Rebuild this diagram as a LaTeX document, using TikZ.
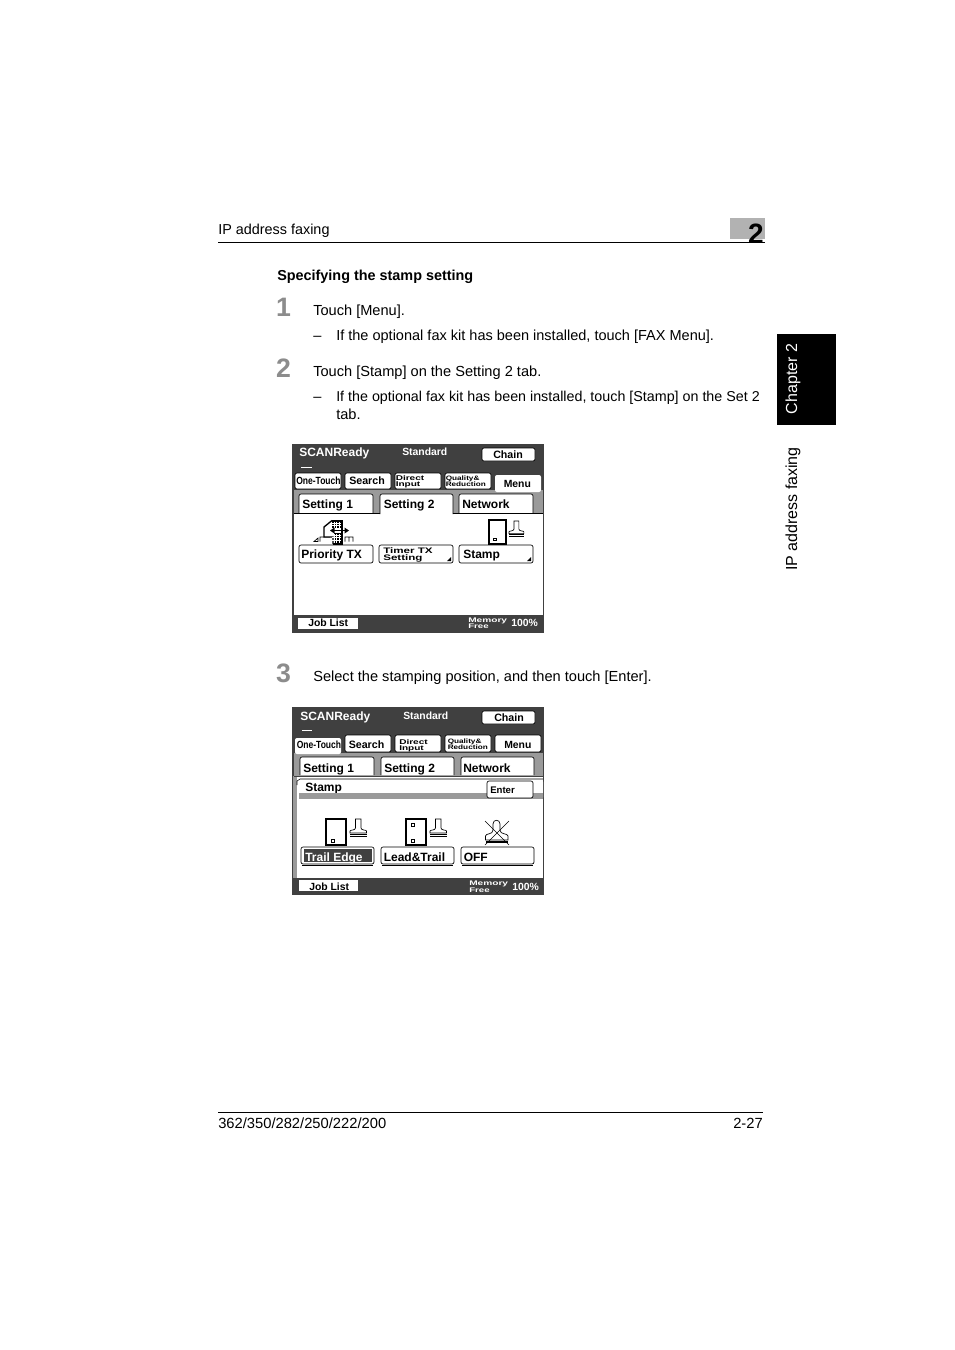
\documentclass[tikz,border=0pt]{standalone}
\usepackage{fontspec}
\setmainfont{Liberation Sans}
\usetikzlibrary{calc}
\definecolor{panelgray}{HTML}{404040}
\definecolor{stripgray}{HTML}{9A9A9A}
\definecolor{stepgray}{HTML}{8C8C8C}
\tikzset{
  page/.style={inner sep=0pt,anchor=base west,font=\fontsize{10.95}{12}\selectfont},
  side/.style={inner sep=0pt,anchor=center,rotate=90,font=\fontsize{12}{13}\selectfont},
  keytext/.style={inner sep=0pt,anchor=base west,font=\bfseries\fontsize{9}{10}\selectfont},
  smalltext/.style={inner sep=0pt,anchor=base west,font=\bfseries\fontsize{5.2}{5}\selectfont},
  stepnum/.style={inner sep=0pt,anchor=center,text=stepgray,font=\bfseries\fontsize{20}{20}\selectfont},
  keybox/.style={draw=black,fill=white,line width=0.5pt,rounded corners=1.5pt},
}
\newcommand{\wide}[1]{\scalebox{1.45}[1]{#1}}
\newcommand{\stampicon}[3]{%
\begin{scope}[shift={(#1,#2)},scale=#3]
\draw[black,line width=0.5pt] (0,14) -- (0,12) .. controls (0,10.8) and (5.5,11.5) .. (5.5,9) -- (5.5,0) -- (11,0) -- (11,9) .. controls (11,11.5) and (16.5,10.8) .. (16.5,12) -- (16.5,14) -- cycle;
\draw[black,line width=1pt] (0,15.2) -- (16.5,15.2);
\draw[black,line width=1pt] (0,17.4) -- (16.5,17.4);
\end{scope}}
\begin{document}
\begin{tikzpicture}[x=0.75pt,y=-0.75pt]
\useasboundingbox (0,0) rectangle (954,1350);
% page head
\node[page,font=\fontsize{10.8}{12}\selectfont] (headtitle) at (218,234) {IP address faxing};
\fill[black!30] (730,218) rectangle (765,239);
\draw[black,line width=0.7pt] (218,242.5) -- (765,242.5);
\node[inner sep=0pt,anchor=base east,font=\bfseries\fontsize{21}{22}\selectfont] (headnum) at (764,243) {2};
\fill[black] (777,334) rectangle (836,425);
\node[side,text=white] (sidechapter) at (793,379) {Chapter 2};
\node[side] (sidetitle) at (793,509) {IP address faxing};
% steps
\node[page,font=\bfseries\fontsize{10.8}{12}\selectfont] (heading) at (277,280) {Specifying the stamp setting};
\node[stepnum] (stepa) at (283.5,307) {1};
\node[page] (stepatext) at (313,315) {Touch [Menu].};
\node[page] (dasha) at (313,340) {–};
\node[page,font=\fontsize{10.89}{12}\selectfont] (noteatext) at (336,340) {If the optional fax kit has been installed, touch [FAX Menu].};
\node[stepnum] (stepb) at (283.5,368) {2};
\node[page] (stepbtext) at (313,376) {Touch [Stamp] on the Setting 2 tab.};
\node[page] (dashb) at (313,401) {–};
\node[page,font=\fontsize{10.72}{12}\selectfont] (notebtext) at (336,401) {If the optional fax kit has been installed, touch [Stamp] on the Set 2};
\node[page] (notebtextb) at (336,419) {tab.};
\node[stepnum] (stepc) at (283.5,673) {3};
\node[page] (stepctext) at (313,681) {Select the stamping position, and then touch [Enter].};
% first screen
\fill[panelgray] (292,444) rectangle (544,633);
\fill[stripgray] (294,490) rectangle (543,513);
\fill[white] (294,513) rectangle (543,615);
\draw[white,line width=0.8pt] (301,467.5) -- (312,467.5);
\node[keytext,text=white] (ascan) at (299,456) {SCANReady};
\node[keytext,text=white,font=\bfseries\fontsize{7.8}{8}\selectfont] (astd) at (402,455) {Standard};
\draw[keybox] (482,448) rectangle (535,461);
\node[keytext,font=\bfseries\fontsize{8}{8}\selectfont] (achain) at (493,458) {Chain};
\draw[keybox] (295,473) rectangle (341,489);
\node[keytext,font=\bfseries\fontsize{7.8}{8}\selectfont] (aone) at (296,484) {\scalebox{0.82}[1]{One-Touch}};
\draw[keybox] (345,473) rectangle (391,489);
\node[keytext,font=\bfseries\fontsize{8}{8}\selectfont] (asearch) at (349,484) {Search};
\draw[keybox] (395,473) rectangle (441,489);
\node[smalltext] (adira) at (395.5,480) {\wide{Direct}};
\node[smalltext] (adirb) at (395.5,486) {\wide{Input}};
\draw[keybox] (445,473) rectangle (491,489);
\node[smalltext,font=\bfseries\fontsize{4.8}{5}\selectfont] (aquala) at (445.5,480) {\scalebox{1.28}[1]{Quality\&}};
\node[smalltext,font=\bfseries\fontsize{4.8}{5}\selectfont] (aqualb) at (445.5,486) {\scalebox{1.28}[1]{Reduction}};
\fill[white,rounded corners=1.5pt] (495,475) rectangle (541,492);
\node[keytext,font=\bfseries\fontsize{7.8}{8}\selectfont] (amenu) at (503.5,487) {Menu};
\draw[keybox] (299,513) |- (373,494) -- (373,513);
\node[keytext] (atabx) at (302,508) {Setting 1};
\draw[keybox] (380,514) |- (453,494) -- (453,514);
\node[keytext] (ataby) at (383.5,508) {Setting 2};
\draw[keybox] (459,513) |- (533,494) -- (533,513);
\node[keytext] (atabz) at (462,508) {Network};
\draw[black,line width=0.4pt] (293.5,513) -- (380,513) (453,513) -- (543,513);
% priority icon
\draw[black,line width=0.5pt] (314,541.5) -- (318,538) -- (318,541.5) -- cycle (320,541.5) -- (320,537) -- (330,537) (345,541.5) -- (345,537) -- (353,537) -- (353,541.5) (349,537) -- (349,541.5);
\fill[white] (332,520.5) -- (324,527) -- (324,537) -- (333,537) -- (333,544) -- (342,544) -- (342,520.5) -- cycle;
\draw[black,line width=1pt] (332,520.5) -- (324,527) -- (324,537) -- (333,537) -- (333,544);
\draw[black,line width=0.8pt] (332,520.5) -- (342,520.5) -- (342,544) -- (333,544);
\fill[black] (332,521) rectangle (341,528);
\fill[black] (334,533) rectangle (341,543);
\foreach \gx in {334,336.5,339} \draw[white,line width=0.4pt] (\gx,521.5) -- (\gx,528) (\gx,533.5) -- (\gx,543);
\foreach \gy in {523,525.5,535,537.5,540} \draw[white,line width=0.4pt] (332,\gy) -- (341,\gy);
\draw[black,line width=1.2pt] (332,530.5) -- (345,530.5);
\fill[black] (349,530.5) -- (344.5,527.5) -- (344.5,533.5) -- cycle;
\fill[black] (330,530.5) -- (334.5,527.5) -- (334.5,533.5) -- cycle;
% function keys
\draw[keybox] (299,545) rectangle (373,563);
\node[keytext,font=\bfseries\fontsize{9}{10}\selectfont] (aprio) at (301,558) {Priority TX};
\draw[keybox] (379,545) rectangle (453,563);
\node[smalltext,font=\bfseries\fontsize{6}{6}\selectfont] (atimera) at (383,553) {\wide{Timer TX}};
\node[smalltext,font=\bfseries\fontsize{6}{6}\selectfont] (atimerb) at (383,560) {\wide{Setting}};
\fill[black] (451,561) -- (447,561) -- (451,557) -- cycle;
\draw[keybox] (459,545) rectangle (533,563);
\node[keytext] (astamp) at (463,558) {Stamp};
\fill[black] (531,561) -- (527,561) -- (531,557) -- cycle;
\draw[black,line width=1pt] (489,520) rectangle (506,544);
\draw[black,line width=0.5pt] (493.5,538) rectangle (496,540.5);
\stampicon{509}{521}{0.9}
% first bar
\fill[white] (298,618) rectangle (358,629);
\node[keytext,font=\bfseries\fontsize{7.8}{8}\selectfont] (ajob) at (308,626) {Job List};
\node[smalltext,text=white,font=\bfseries\fontsize{5}{5}\selectfont] (amema) at (468,622) {\scalebox{1.52}[1]{Memory}};
\node[smalltext,text=white,font=\bfseries\fontsize{5}{5}\selectfont] (amemb) at (468,628) {\wide{Free}};
\node[keytext,text=white,font=\bfseries\fontsize{7.8}{8}\selectfont] (apct) at (511,626) {100\%};
% second screen
\fill[panelgray] (292,707) rectangle (544,895);
\fill[stripgray] (294,753) rectangle (543,779);
\fill[white] (294,776) rectangle (543,878);
\fill[stripgray] (293,776) rectangle (297,878);
\draw[white,line width=0.8pt] (302,730.5) -- (312,730.5);
\node[keytext,text=white] (bscan) at (300,720) {SCANReady};
\node[keytext,text=white,font=\bfseries\fontsize{7.8}{8}\selectfont] (bstd) at (403,719) {Standard};
\draw[keybox] (482,711) rectangle (535,724);
\node[keytext,font=\bfseries\fontsize{8}{8}\selectfont] (bchain) at (494,721) {Chain};
\fill[white,rounded corners=1.5pt] (295,738) rectangle (341,754);
\node[keytext,font=\bfseries\fontsize{7.8}{8}\selectfont] (bone) at (296.5,748) {\scalebox{0.82}[1]{One-Touch}};
\draw[keybox] (345,735) rectangle (391,752);
\node[keytext,font=\bfseries\fontsize{8}{8}\selectfont] (bsearch) at (348.5,748) {Search};
\draw[keybox] (395,735) rectangle (441,752);
\node[smalltext] (bdira) at (399,744) {\wide{Direct}};
\node[smalltext] (bdirb) at (399,750) {\wide{Input}};
\draw[keybox] (445,735) rectangle (491,752);
\node[smalltext,font=\bfseries\fontsize{4.8}{5}\selectfont] (bquala) at (447.5,743) {\scalebox{1.28}[1]{Quality\&}};
\node[smalltext,font=\bfseries\fontsize{4.8}{5}\selectfont] (bqualb) at (447.5,749) {\scalebox{1.28}[1]{Reduction}};
\draw[keybox] (495,735) rectangle (541,752);
\node[keytext,font=\bfseries\fontsize{7.8}{8}\selectfont] (bmenu) at (504,748) {Menu};
\draw[keybox] (300,775) |- (374,757) -- (374,775);
\node[keytext] (btabx) at (303,772) {Setting 1};
\draw[keybox] (381,775) |- (454,757) -- (454,775);
\node[keytext] (btaby) at (384,772) {Setting 2};
\draw[keybox] (461,775) |- (534,757) -- (534,775);
\node[keytext] (btabz) at (463,772) {Network};
\draw[panelgray,line width=0.9pt] (294,776.5) -- (543,776.5);
\fill[white,rounded corners=2pt] (297,779) rectangle (543,800);
\draw[black,line width=0.4pt] (297,785) -- (297,781) -- (300,779) -- (543,779);
\node[keytext] (bstamp) at (305,791) {Stamp};
\fill[stripgray] (299,793) rectangle (543,799);
\draw[keybox] (487,781) rectangle (533,798);
\node[keytext,font=\bfseries\fontsize{7.2}{8}\selectfont] (benter) at (490,793) {Enter};
% stamp icons
\draw[black,line width=1pt] (326,819) rectangle (346,845);
\draw[black,line width=0.5pt] (331,839) rectangle (334,842);
\stampicon{350}{819}{1}
\draw[black,line width=1pt] (406,819) rectangle (426,845);
\draw[black,line width=0.5pt] (411,823) rectangle (414,826);
\draw[black,line width=0.5pt] (411,839) rectangle (414,842);
\stampicon{430}{819}{1}
\draw[black,line width=0.5pt] (485.5,840) -- (485.5,836) .. controls (485.5,833) and (493,835) .. (493,830) -- (493,824) .. controls (493,819) and (500,819) .. (500,824) -- (500,830) .. controls (500,835) and (508,833) .. (508,836) -- (508,840) -- cycle;
\draw[black,line width=0.5pt] (485,821) -- (509,845) (509,821) -- (485,845);
\draw[black,line width=1.2pt] (486,842) -- (508,842);
% choice keys
\draw[keybox] (301,847) rectangle (374,864);
\draw[black,line width=1pt] (302,865.5) -- (373,865.5);
\fill[panelgray] (304,849) rectangle (372,862);
\node[keytext,text=white] (bedge) at (305,861) {Trail Edge};
\draw[keybox] (381,847) rectangle (454,864);
\draw[black,line width=1pt] (382,865.5) -- (453,865.5);
\node[keytext] (blead) at (383.5,861) {Lead\&Trail};
\draw[keybox] (461,847) rectangle (534,864);
\draw[black,line width=1pt] (462,865.5) -- (533,865.5);
\node[keytext] (boff) at (463.5,861) {OFF};
% second bar
\fill[white] (299,880) rectangle (358,891);
\node[keytext,font=\bfseries\fontsize{7.8}{8}\selectfont] (bjob) at (309,890) {Job List};
\node[smalltext,text=white,font=\bfseries\fontsize{5}{5}\selectfont] (bmema) at (469,885) {\scalebox{1.52}[1]{Memory}};
\node[smalltext,text=white,font=\bfseries\fontsize{5}{5}\selectfont] (bmemb) at (469,892) {\wide{Free}};
\node[keytext,text=white,font=\bfseries\fontsize{7.8}{8}\selectfont] (bpct) at (512,890) {100\%};
% page foot
\draw[black,line width=0.5pt] (218,1112.5) -- (763,1112.5);
\node[page,font=\fontsize{11.05}{12}\selectfont] (footmodel) at (218,1128) {362/350/282/250/222/200};
\node[page,anchor=base east,font=\fontsize{11.05}{12}\selectfont] (footpage) at (763,1128) {2-27};
\end{tikzpicture}
\end{document}
